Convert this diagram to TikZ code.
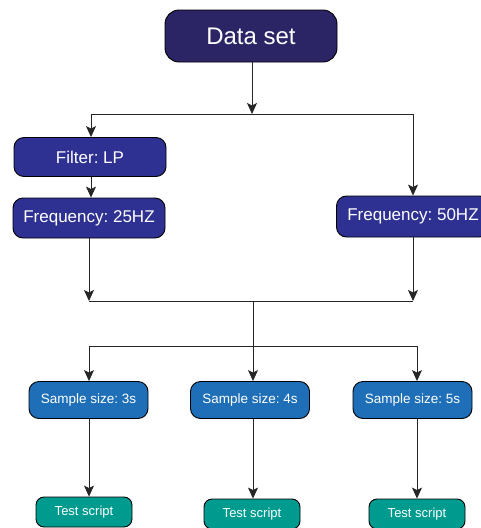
\documentclass[tikz,border=0pt]{standalone}
\usepackage{fontspec}
\setmainfont{Liberation Sans}
\usetikzlibrary{arrows.meta}
\definecolor{dsfill}{HTML}{2B2566}
\definecolor{navyfill}{HTML}{2E3191}
\definecolor{samplefill}{HTML}{1E6FB8}
\definecolor{testfill}{HTML}{009B8F}
\frenchspacing
\tikzset{
  box/.style={draw=black, line width=0.9pt, text=white, inner sep=0pt, align=center},
  dsbox/.style={box, fill=dsfill, rounded corners=14pt, minimum width=172pt, minimum height=52pt, font=\fontsize{24}{28}\selectfont},
  freqbox/.style={box, fill=navyfill, rounded corners=10pt, minimum width=152pt, minimum height=40pt, font=\fontsize{17}{20}\selectfont},
  samplebox/.style={box, fill=samplefill, rounded corners=10pt, minimum width=119pt, minimum height=37pt, font=\fontsize{13.5}{16}\selectfont},
  testbox/.style={box, fill=testfill, rounded corners=8pt, minimum width=96pt, minimum height=30pt, font=\fontsize{13}{15}\selectfont},
  link/.style={draw=black!85, line width=0.8pt},
  arr/.style={link, -{Stealth[length=11pt,width=10pt,inset=2.5pt]}}
}
\begin{document}
\begin{tikzpicture}[x=1pt,y=-1pt]
\useasboundingbox (0,0) rectangle (481,528);
\clip (0,0) rectangle (481,528);

% boxes
\node[dsbox] (ds) at (251,36) {Data set};
\node[freqbox, minimum height=39pt] (filt) at (90,157) {Filter: LP};
\node[freqbox] (f25) at (89,218) {Frequency: 25HZ};
\node[freqbox, minimum height=41pt, minimum width=153pt] (f50) at (413,216.5) {Frequency: 50HZ};
\node[samplebox] (s3) at (88.5,400) {Sample size: 3s};
\node[samplebox] (s4) at (250,400) {Sample size: 4s};
\node[samplebox] (s5) at (412.5,400) {Sample size: 5s};
\node[testbox] (t1) at (84,512) {Test script};
\node[testbox] (t2) at (252,514) {Test script};
\node[testbox] (t3) at (417,514) {Test script};

% junction points
\coordinate (j0) at (252,114);
\coordinate (j0l) at (91,114);
\coordinate (j0r) at (413,114);
\coordinate (j1l) at (89,301);
\coordinate (j1r) at (413,301);
\coordinate (j1m) at (253,301);
\coordinate (j2m) at (253,346);
\coordinate (j2l) at (89,346);
\coordinate (j2r) at (417,346);

% data set to the two branches
\draw[arr] (ds.south -| j0) -- (j0);
\draw[link] (j0l) -- (j0r);
\draw[arr] (j0l) -- (j0l |- filt.north);
\draw[arr] (j0r) -- (j0r |- f50.north);
\draw[arr] (filt.south -| j0l) -- (f25.north -| j0l);

% branches merge
\draw[arr] (f25.south -| j1l) -- (j1l);
\draw[arr] (f50.south -| j1r) -- (j1r);
\draw[link] (j1l) -- (j1r);
\draw[link] (j1m) -- (j2m);
\draw[link] (j2l) -- (j2r);

% sample sizes
\draw[arr] (j2l) -- (j2l |- s3.north);
\draw[arr] (j2m) -- (j2m |- s4.north);
\draw[arr] (j2r) -- (j2r |- s5.north);

% test scripts
\draw[arr] (s3.south -| j2l) -- (t1.north -| j2l);
\draw[arr] (s4.south -| j2m) -- (t2.north -| j2m);
\draw[arr] (s5.south -| j2r) -- (t3.north -| j2r);
\end{tikzpicture}
\end{document}
